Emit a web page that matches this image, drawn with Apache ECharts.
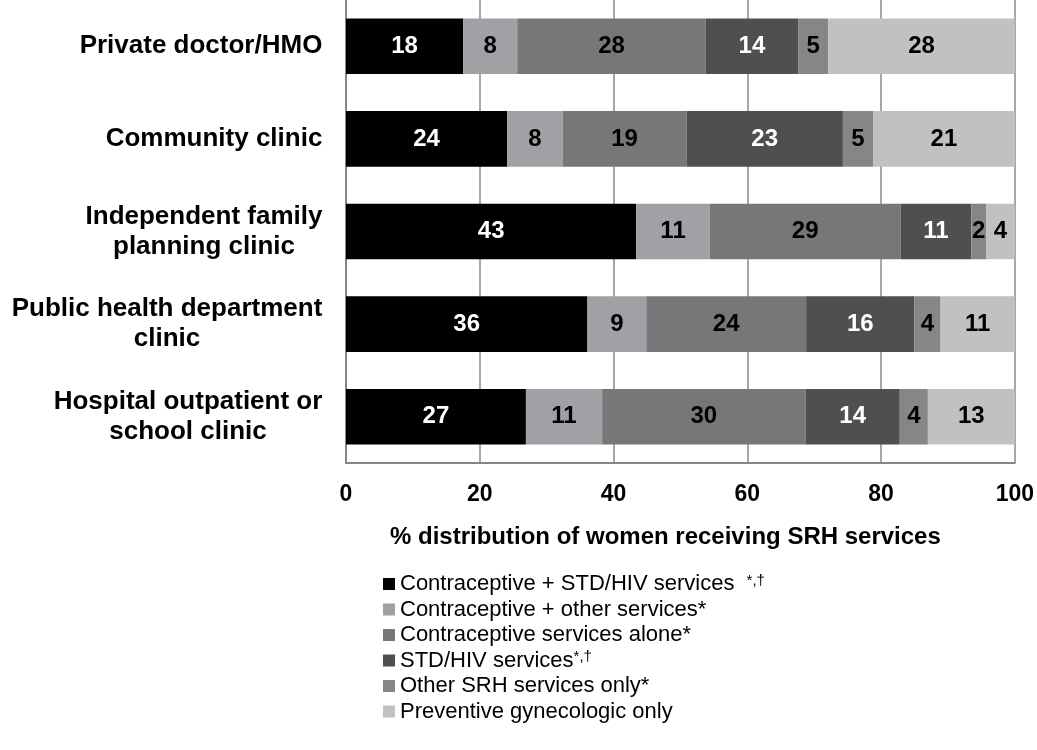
<!DOCTYPE html>
<html>
<head>
<meta charset="utf-8">
<script src="https://cdn.jsdelivr.net/npm/echarts@6/dist/echarts.min.js"></script>
<style>
html,body{margin:0;padding:0;background:#fff;}
#chart{width:1037px;height:750px;}
</style>
</head>
<body>
<div id="chart"></div>
<script>
const categories = [
  "Private doctor/HMO",
  "Community clinic",
  "Independent family\nplanning clinic",
  "Public health department\nclinic",
  "Hospital outpatient or\nschool clinic"
];
const seriesNames = [
  "Contraceptive + STD/HIV services",
  "Contraceptive + other services",
  "Contraceptive services alone",
  "STD/HIV services",
  "Other SRH services only",
  "Preventive gynecologic only"
];
const seriesMarks = ["  {sup|*,\u2020}", "*", "*", "{sup|*,\u2020}", "*", ""];
const contraSTD   = [17.5, 24.1, 43.4, 36.1, 26.9];
const contraOther = [8.1, 8.3, 11.0, 8.8, 11.4];
const contraAlone = [28.2, 18.5, 28.5, 23.9, 30.4];
const stdHiv      = [13.8, 23.4, 10.6, 16.2, 14.1];
const otherSRH    = [4.5, 4.5, 2.2, 3.9, 4.2];
const preventive  = [27.9, 21.2, 4.4, 11.1, 13.0];
const xTicks = [0, 20, 40, 60, 80, 100];

const seriesValues = [contraSTD, contraOther, contraAlone, stdHiv, otherSRH, preventive];
const colors = ["#000000", "#a0a1a5", "#767779", "#4f4f51", "#858688", "#c0c1c3"];
const labelColors = ["#ffffff", "#000000", "#000000", "#ffffff", "#000000", "#000000"];

const FONT = "'Liberation Sans', Arial, sans-serif";
const catFontSize = 26;

// measure category lines to center multi-line labels within a right-aligned block
const cv = document.createElement('canvas').getContext('2d');
cv.font = "bold " + catFontSize + "px 'Liberation Sans', Arial, sans-serif";
const rich = {};
categories.forEach((c, i) => {
  const w = Math.max(...c.split('\n').map(l => cv.measureText(l).width));
  rich['c' + i] = { width: Math.ceil(w) + 1, align: 'center', fontSize: catFontSize, fontWeight: 'bold', fontFamily: FONT, lineHeight: 30, color: '#000' };
});

const chart = echarts.init(document.getElementById('chart'), null, { renderer: 'canvas' });
const option = {
  animation: false,
  backgroundColor: '#ffffff',
  grid: { left: 346, right: 21, top: 0, bottom: 287, containLabel: false },
  xAxis: {
    type: 'value', min: xTicks[0], max: xTicks[xTicks.length - 1], interval: 20,
    axisLine: { show: true, lineStyle: { color: '#868686', width: 2 } },
    axisTick: { show: false },
    splitLine: { show: true, lineStyle: { color: '#8a8a8a', width: 1.5 } },
    axisLabel: { margin: 20, fontSize: 23, fontWeight: 'bold', color: '#000', fontFamily: FONT },
    name: '% distribution of women receiving SRH services',
    nameLocation: 'middle', nameGap: 62,
    nameTextStyle: { fontSize: 24, fontWeight: 'bold', color: '#000', fontFamily: FONT, padding: [0, 30, 0, 0] }
  },
  yAxis: {
    type: 'category', data: categories, inverse: true,
    axisLine: { show: true, lineStyle: { color: '#868686', width: 2 } },
    axisTick: { show: false },
    axisLabel: {
      margin: 23, fontSize: catFontSize, fontWeight: 'bold', color: '#000', fontFamily: FONT, lineHeight: 30,
      formatter: function (value, index) {
        return value.split('\n').map(l => '{c' + index + '|' + l + '}').join('\n');
      },
      rich: rich
    }
  },
  legend: {
    orient: 'vertical', left: 383, top: 573, padding: 0,
    itemWidth: 12, itemHeight: 12, itemGap: 3.5, icon: 'rect',
    data: seriesNames,
    formatter: function (name) { return name + seriesMarks[seriesNames.indexOf(name)]; },
    textStyle: {
      fontSize: 22, color: '#000', fontFamily: FONT, lineHeight: 22,
      rich: { sup: { fontSize: 15, color: '#000', fontFamily: FONT, lineHeight: 22, verticalAlign: 'top' } }
    }
  },
  series: seriesNames.map((n, i) => ({
    name: n, type: 'bar', stack: 'total', data: seriesValues[i],
    barCategoryGap: '40%',
    itemStyle: { color: colors[i] },
    label: {
      show: true, position: 'inside', color: labelColors[i],
      fontSize: 24, fontWeight: 'bold', fontFamily: FONT,
      formatter: p => String(Math.round(p.value))
    }
  }))
};
chart.setOption(option);
</script>
</body>
</html>
